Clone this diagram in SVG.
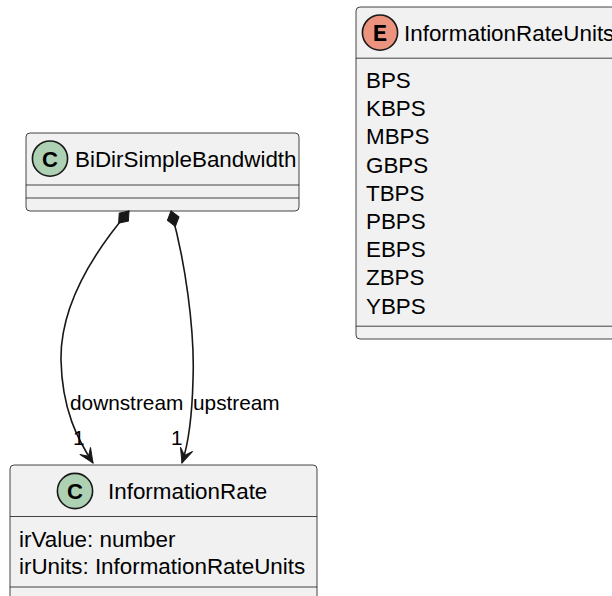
<svg xmlns="http://www.w3.org/2000/svg" width="612" height="596" viewBox="0 0 612 596">
<defs>
<style>
.box{fill:#F1F1F1;stroke:#181818;stroke-width:0.8}
.sep{stroke:#181818;stroke-width:0.8;fill:none}
.t{font-family:"Liberation Sans",Arial,sans-serif;font-size:22.4px;fill:#000}
.lbl{font-family:"Liberation Sans",Arial,sans-serif;font-size:20.8px;fill:#000}
.sp{fill:#ADD1B2;stroke:#181818;stroke-width:1.6}
.en{fill:#EB937F;stroke:#181818;stroke-width:1.6}
.ltr{font-family:"Liberation Sans",Arial,sans-serif;font-size:22px;font-weight:bold;fill:#000;text-anchor:middle}
.ltrE{font-family:"Liberation Mono","Courier New",monospace;font-size:24px;font-weight:bold;fill:#000;text-anchor:middle}
.edge{fill:none;stroke:#181818;stroke-width:1.6}
</style>
<marker id="dia" markerUnits="userSpaceOnUse" markerWidth="20" markerHeight="20" refX="0" refY="0" orient="auto" overflow="visible">
<polygon points="0,0 8,-6 16,0 8,6" fill="#181818" stroke="#181818" stroke-width="1"/>
</marker>
<marker id="arr" markerUnits="userSpaceOnUse" markerWidth="20" markerHeight="20" refX="0" refY="0" orient="auto" overflow="visible">
<polygon points="0,0 -14.4,-6.4 -8,0 -14.4,6.4" fill="#181818" stroke="#181818" stroke-width="1"/>
</marker>
</defs>
<rect width="612" height="596" fill="#FFFFFF"/>

<g id="InformationRateUnits">
<rect class="box" x="356" y="7" width="270" height="332" rx="4"/>
<circle class="en" cx="380" cy="32.6" r="17.6"/>
<text class="ltrE" x="380" y="40.5">E</text>
<text class="t" x="404" y="40.5">InformationRateUnits</text>
<line class="sep" x1="356" y1="58.2" x2="612" y2="58.2"/>
<text class="t" x="366" y="88">BPS</text>
<text class="t" x="366" y="116.2">KBPS</text>
<text class="t" x="366" y="144.4">MBPS</text>
<text class="t" x="366" y="172.6">GBPS</text>
<text class="t" x="366" y="200.8">TBPS</text>
<text class="t" x="366" y="229">PBPS</text>
<text class="t" x="366" y="257.2">EBPS</text>
<text class="t" x="366" y="285.4">ZBPS</text>
<text class="t" x="366" y="313.6">YBPS</text>
<line class="sep" x1="356" y1="326.2" x2="612" y2="326.2"/>
</g>

<g id="BiDirSimpleBandwidth">
<rect class="box" x="26" y="133" width="273" height="78" rx="4"/>
<circle class="sp" cx="50" cy="158.6" r="17.6"/>
<text class="ltr" x="50" y="166.5">C</text>
<text class="t" x="75" y="166.5">BiDirSimpleBandwidth</text>
<line class="sep" x1="26" y1="185" x2="299" y2="185"/>
<line class="sep" x1="26" y1="198" x2="299" y2="198"/>
</g>

<g id="InformationRate">
<rect class="box" x="10" y="465" width="307" height="140" rx="4"/>
<circle class="sp" cx="75" cy="491" r="17.6"/>
<text class="ltr" x="75" y="499">C</text>
<text class="t" x="108" y="499">InformationRate</text>
<line class="sep" x1="10" y1="516.5" x2="317" y2="516.5"/>
<text class="t" x="19" y="547">irValue: number</text>
<text class="t" x="19" y="574">irUnits: InformationRateUnits</text>
<line class="sep" x1="10" y1="587" x2="317" y2="587"/>
</g>

<g id="connectors">
<path class="edge" d="M129,211 C100,245 60,300 61,360 C62,410 78,440 93,463" marker-start="url(#dia)" marker-end="url(#arr)"/>
<path class="edge" d="M171,211 C185,260 195,330 193,380 C192,420 188,445 182,463" marker-start="url(#dia)" marker-end="url(#arr)"/>
<text class="lbl" x="70" y="410">downstream</text>
<text class="lbl" x="193" y="410">upstream</text>
<text class="lbl" x="73" y="445">1</text>
<text class="lbl" x="171" y="445">1</text>
</g>
</svg>
